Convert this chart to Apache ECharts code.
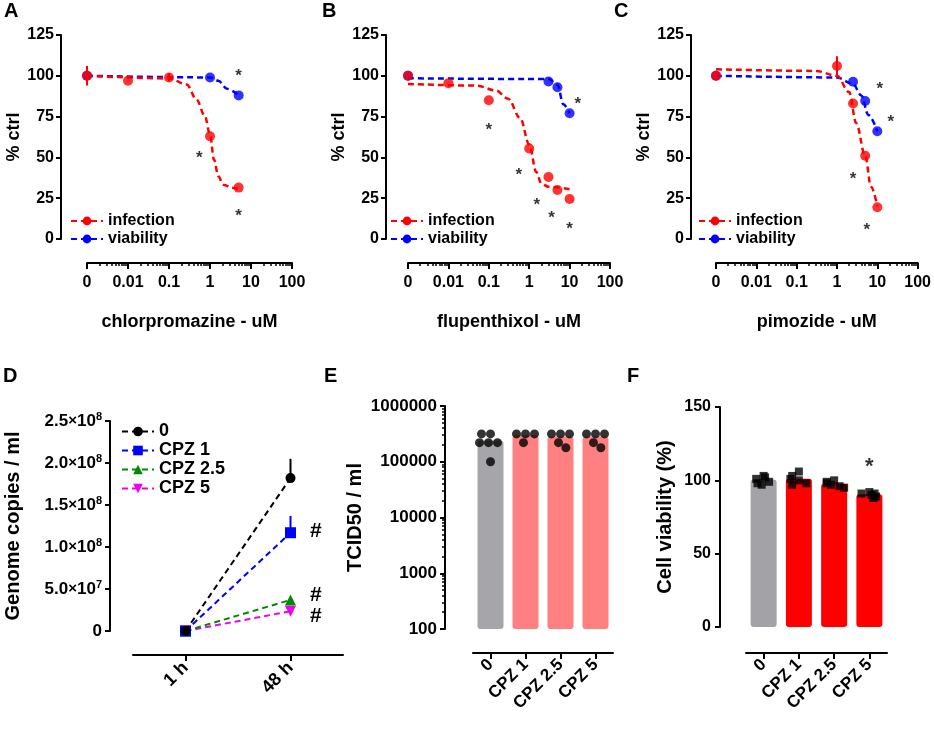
<!DOCTYPE html>
<html>
<head>
<meta charset="utf-8">
<script src="https://cdn.jsdelivr.net/npm/echarts@6/dist/echarts.min.js"></script>
<style>
html,body{margin:0;padding:0;background:#fff}
#wrap{position:relative;width:934px;height:730px}
.layer{position:absolute;left:0;top:0;width:934px;height:730px}
</style>
</head>
<body>
<div id="wrap"></div>
<script>
// dose axes (A-C): "0" is drawn at 0.001 on the log scale
var doseTicks = [0.001, 0.01, 0.1, 1, 10, 100];
var doseTickLabels = ['0', '0.01', '0.1', '1', '10', '100'];
var minorSteps = [2, 3, 4, 5, 6, 7, 8, 9];

// A - chlorpromazine
var aInfection = [[0.001, 100], [0.01, 97], [0.1, 99], [1, 63], [5, 31.5]];
var aViability = [[0.001, 100], [1, 99], [5, 88]];
var aInfFit = [[0.001, 100], [0.1, 98.4], [0.27, 94.7], [0.47, 85.5], [0.75, 75.3], [1, 64], [1.25, 48.7],
  [1.6, 38.4], [2.1, 33.3], [3.7, 31.3], [5, 30.7]];
var aViaFit = [[0.001, 100], [1, 99], [1.6, 97], [2.6, 92], [5, 88]];
var aErr = [[0.001, 94, 106], [0.1, 96.5, 101.5]];
var aStars = [[5, 102], [0.55, 52], [5, 16.5]];

// B - flupenthixol
var bInfection = [[0.001, 100], [0.01, 95.5], [0.1, 85], [1, 55.5], [3, 38], [5, 30], [10, 24.5]];
var bViability = [[0.001, 100], [3, 96.5], [5, 93], [10, 77]];
var bInfFit = [[0.001, 95], [0.05, 94], [0.15, 91], [0.3, 86], [0.6, 74], [1, 58], [1.5, 41], [2, 34],
  [3, 32], [10, 30.5]];
var bViaFit = [[0.001, 98.5], [3, 98], [5, 94.5], [7, 82.5], [10, 77]];
var bErr = [];
var bStars = [[0.1, 69], [0.55, 41.5], [1.55, 23], [3.6, 15], [10, 8.5], [16, 85]];

// C - pimozide
var cInfection = [[0.001, 100], [1, 106], [2.5, 83], [5, 51], [10, 19.5]];
var cViability = [[0.001, 100], [2.5, 96.3], [5, 84.6], [10, 66]];
var cInfFit = [[0.001, 104], [0.3, 103], [1, 100], [2, 90], [3, 71], [5, 51], [7, 32], [10, 20]];
var cViaFit = [[0.001, 100], [1, 99], [2.5, 95], [4, 88], [6, 76], [10, 66]];
var cErr = [[0.001, 97.5, 102.5], [1, 100, 112]];
var cStars = [[11.5, 94], [21.5, 74], [2.5, 39], [5.5, 8]];

// D - genome copies
var dTimes = ['1 h', '48 h'];
var dNames = ['0', 'CPZ 1', 'CPZ 2.5', 'CPZ 5'];
var dCtrl = [0, 1.82e8];
var dCpz1 = [0, 1.17e8];
var dCpz25 = [0, 0.37e8];
var dCpz5 = [0, 0.235e8];
var dErrCtrl = [[1, 1.82e8, 2.05e8]];
var dErrCpz1 = [[1, 1.17e8, 1.37e8]];
var dMarks = ['', '#', '#', '#'];

// E - TCID50
var groups = ['0', 'CPZ 1', 'CPZ 2.5', 'CPZ 5'];
var eTicks = [100, 1000, 10000, 100000, 1000000];
var eBars = [2.4e5, 3.0e5, 2.85e5, 2.85e5];
var eDots = [
  [3.16e5, 3.16e5, 2.2e5, 2.2e5, 2.2e5, 1e5],
  [3.16e5, 3.16e5, 3.16e5, 2.2e5],
  [3.16e5, 3.16e5, 3.16e5, 2.2e5, 1.78e5],
  [3.16e5, 3.16e5, 3.16e5, 2.2e5, 1.78e5]
];

// F - cell viability
var fBars = [100.5, 101, 97.7, 90.5];
var fDots = [
  [103, 101, 99, 97, 98, 102],
  [106, 103, 100, 98, 97, 101],
  [100, 98, 96, 95, 97, 99],
  [92, 91, 89, 88, 90, 91]
];
var fStars = [['CPZ 5', 112]];

var RED = '#ff0000', BLUE = '#0000ff';
var FONT = 'Liberation Sans';
var eColors = ['#a6a5aa', '#ff8080', '#ff8080', '#ff8080'];
var fColors = ['#a3a2a7', '#ff0000', '#ff0000', '#ff0000'];
var dColors = ['#000000', '#0000ff', '#008a00', '#ee00ee'];
var dSymbols = ['circle', 'rect', 'triangle', 'triangle'];
var dRotate = [0, 0, 0, 180];
var dMarkShift = [0, -2, -5, 5];

function minorsOf(ticks) {
  var out = [];
  for (var i = 0; i < ticks.length - 1; i++) {
    minorSteps.forEach(function (k) { out.push(ticks[i] * k); });
  }
  return out;
}
function lbl(size) {
  return { color: '#000', fontWeight: 'bold', fontFamily: FONT, fontSize: size };
}
function axLine() {
  return { show: true, onZero: false, lineStyle: { color: '#000', width: 2 } };
}
function axTick(extra) {
  return Object.assign({ show: true, length: 5, lineStyle: { color: '#000', width: 2 } }, extra || {});
}
function letter(t, x, y) {
  return [{ type: 'text', left: x, top: y, style: { text: t, font: 'bold 20px ' + FONT, fill: '#000' } }];
}

function errSeries(data, color) {
  return {
    type: 'custom', data: data, silent: true, z: 4,
    renderItem: function (p, api) {
      var a = api.coord([api.value(0), api.value(1)]);
      var b = api.coord([api.value(0), api.value(2)]);
      return { type: 'line', shape: { x1: a[0], y1: a[1], x2: b[0], y2: b[1] },
        style: { stroke: color, lineWidth: 2 } };
    }
  };
}

function starSeries(data, size) {
  return {
    type: 'scatter', data: data, silent: true,
    symbolSize: 1, itemStyle: { color: 'rgba(0,0,0,0)' },
    label: { show: true, position: 'inside', formatter: '*', offset: [0, 4],
      color: '#000', fontWeight: 'bold', fontFamily: FONT, fontSize: size }
  };
}

// every panel gets its own chart layer, all stacked on the same 934x730 area
function layer(option) {
  var d = document.createElement('div');
  d.className = 'layer';
  document.getElementById('wrap').appendChild(d);
  var c = echarts.init(d);
  option.animation = false;
  option.textStyle = { fontFamily: FONT };
  c.setOption(option);
  return c;
}

var topPanels = [
  { left: 87, width: 205, yOff: 26, inf: aInfection, via: aViability, infFit: aInfFit, viaFit: aViaFit,
    err: aErr, stars: aStars, drug: 'chlorpromazine - uM', letter: 'A', lx: 4, legLeft: 70 },
  { left: 408, width: 202, yOff: 22, inf: bInfection, via: bViability, infFit: bInfFit, viaFit: bViaFit,
    err: bErr, stars: bStars, drug: 'flupenthixol - uM', letter: 'B', lx: 322, legLeft: 390 },
  { left: 716, width: 203, yOff: 25, inf: cInfection, via: cViability, infFit: cInfFit, viaFit: cViaFit,
    err: cErr, stars: cStars, drug: 'pimozide - uM', letter: 'C', lx: 614, legLeft: 698 }
];

// A-C
topPanels.forEach(function (p) {
  layer({
    grid: { left: p.left, top: 35, width: p.width, height: 204 },
    xAxis: [{
      type: 'log', logBase: 10, min: 0.001, max: 100, position: 'bottom', offset: 24,
      name: p.drug, nameLocation: 'middle', nameGap: 50, nameTextStyle: lbl(18),
      axisLine: axLine(), axisTick: axTick({ customValues: doseTicks, length: 6 }),
      splitLine: { show: false },
      axisLabel: Object.assign(lbl(16), { margin: 12, customValues: doseTicks,
        formatter: function (v) { return doseTickLabels[doseTicks.indexOf(+v.toPrecision(3))]; } })
    }, {
      type: 'log', logBase: 10, min: 0.001, max: 100, position: 'bottom', offset: 24,
      axisLine: { show: false, onZero: false }, axisLabel: { show: false }, splitLine: { show: false },
      axisTick: { show: true, length: 3, customValues: minorsOf(doseTicks), lineStyle: { color: '#000', width: 1.5 } }
    }],
    yAxis: {
      type: 'value', min: 0, max: 125, interval: 25, offset: p.yOff, position: 'left',
      name: '% ctrl', nameLocation: 'middle', nameGap: 33, nameTextStyle: lbl(18),
      axisLine: axLine(), axisTick: axTick(), splitLine: { show: false },
      axisLabel: Object.assign(lbl(16), { margin: 7 })
    },
    legend: {
      data: ['infection', 'viability'], orient: 'vertical', left: p.legLeft, top: 212, padding: 0,
      itemGap: 0, itemWidth: 32, itemHeight: 11, selectedMode: false,
      textStyle: Object.assign(lbl(16), { lineHeight: 18 })
    },
    graphic: letter(p.letter, p.lx, 1),
    series: [{
      name: 'viability', type: 'line', data: p.viaFit,
      smooth: 0.35, smoothMonotone: 'x', symbol: 'circle', showSymbol: false, silent: true, z: 2,
      lineStyle: { color: BLUE, width: 2.5, type: [6, 4] }, itemStyle: { color: BLUE }
    }, {
      name: 'infection', type: 'line', data: p.infFit,
      smooth: 0.35, smoothMonotone: 'x', symbol: 'circle', showSymbol: false, silent: true, z: 2,
      lineStyle: { color: RED, width: 2.5, type: [6, 4] }, itemStyle: { color: RED }
    },
    errSeries(p.err, RED),
    { name: 'viability', type: 'scatter', data: p.via, symbolSize: 10, itemStyle: { color: BLUE }, z: 3 },
    { name: 'infection', type: 'scatter', data: p.inf, symbolSize: 10, itemStyle: { color: RED }, z: 5 },
    starSeries(p.stars, 17)]
  });
});

// D
var dSeries = [dCtrl, dCpz1, dCpz25, dCpz5].map(function (vals, k) {
  return {
    name: dNames[k], type: 'line', data: vals,
    symbol: dSymbols[k], symbolRotate: dRotate[k], symbolSize: k === 0 ? 10 : 11, z: 5 - k,
    lineStyle: { color: dColors[k], width: 2, type: [6, 4] }, itemStyle: { color: dColors[k] },
    label: { show: true, position: 'right', distance: 14, offset: [0, dMarkShift[k]], color: '#000',
      fontWeight: 'bold', fontFamily: FONT, fontSize: 21,
      formatter: function (p) { return p.dataIndex === 1 ? dMarks[k] : ''; } }
  };
});
dSeries.push(errSeries(dErrCtrl, '#000'));
dSeries.push(errSeries(dErrCpz1, dColors[1]));
layer({
  grid: { left: 133, top: 421, width: 210, height: 210 },
  xAxis: {
    type: 'category', data: dTimes, position: 'bottom', offset: 24,
    axisLine: axLine(), axisTick: axTick({ alignWithLabel: true, length: 6 }),
    axisLabel: Object.assign(lbl(18), { rotate: 45, margin: 10 })
  },
  yAxis: {
    type: 'value', min: 0, max: 2.5e8, interval: 5e7, offset: 23, position: 'left',
    name: 'Genome copies / ml', nameLocation: 'middle', nameGap: 87, nameTextStyle: lbl(20),
    axisLine: axLine(), axisTick: axTick(), splitLine: { show: false },
    axisLabel: Object.assign(lbl(17), {
      margin: 8,
      formatter: function (v) {
        if (v === 0) return '0';
        var e = Math.floor(Math.log10(v) + 1e-9);
        var m = (v / Math.pow(10, e)).toFixed(1);
        return '{n|' + m + '}{x|×}{n|10}{s|' + e + '}';
      },
      rich: {
        n: { fontSize: 17, fontWeight: 'bold', fontFamily: FONT, color: '#000' },
        x: { fontSize: 15, fontFamily: FONT, color: '#000' },
        s: { fontSize: 11, fontWeight: 'bold', fontFamily: FONT, color: '#000', verticalAlign: 'top', padding: [0, 0, 9, 0] }
      }
    })
  },
  legend: {
    data: dNames, orient: 'vertical', left: 121, top: 422, padding: 0, itemGap: 0,
    itemWidth: 32, itemHeight: 12, selectedMode: false,
    textStyle: Object.assign(lbl(18), { lineHeight: 19 })
  },
  graphic: letter('D', 3, 366),
  series: dSeries
});

// E
var eDotData = [];
eDots.forEach(function (vals, g) { vals.forEach(function (v) { eDotData.push([g, v]); }); });
layer({
  grid: { left: 473, top: 406, width: 140, height: 223 },
  xAxis: {
    type: 'category', data: groups, position: 'bottom', offset: 24,
    jitter: 24, jitterOverlap: false, jitterMargin: 0,
    axisLine: axLine(), axisTick: axTick({ alignWithLabel: true, length: 6 }),
    axisLabel: Object.assign(lbl(17), { rotate: 45, margin: 9, interval: 0 })
  },
  yAxis: [{
    type: 'log', logBase: 10, min: 100, max: 1000000, offset: 28, position: 'left',
    name: 'TCID50 / ml', nameLocation: 'middle', nameGap: 80, nameTextStyle: lbl(20),
    axisLine: axLine(), axisTick: axTick({ customValues: eTicks }),
    splitLine: { show: false },
    axisLabel: Object.assign(lbl(17), { margin: 8, customValues: eTicks,
      formatter: function (v) { return String(Math.round(v)); } })
  }, {
    type: 'log', logBase: 10, min: 100, max: 1000000, offset: 28, position: 'left',
    axisLine: { show: false, onZero: false }, axisLabel: { show: false }, splitLine: { show: false },
    axisTick: { show: true, length: 3, customValues: minorsOf(eTicks), lineStyle: { color: '#000', width: 1.5 } }
  }],
  graphic: letter('E', 324, 366),
  series: [{
    type: 'bar', data: eBars, barWidth: 26, clip: true,
    itemStyle: { color: function (p) { return eColors[p.dataIndex]; }, borderRadius: 3 }
  }, {
    type: 'scatter', data: eDotData, symbolSize: 9, itemStyle: { color: '#000' }, z: 4
  }]
});

// F
var fDotData = [];
fDots.forEach(function (vals, g) { vals.forEach(function (v) { fDotData.push([g, v]); }); });
layer({
  grid: { left: 746, top: 407, width: 141, height: 220 },
  xAxis: {
    type: 'category', data: groups, position: 'bottom', offset: 26,
    jitter: 22, jitterOverlap: false, jitterMargin: 0,
    axisLine: axLine(), axisTick: axTick({ alignWithLabel: true, length: 6 }),
    axisLabel: Object.assign(lbl(17), { rotate: 45, margin: 9, interval: 0 })
  },
  yAxis: {
    type: 'value', min: 0, max: 150, interval: 50, offset: 26, position: 'left',
    name: 'Cell viability (%)', nameLocation: 'middle', nameGap: 45, nameTextStyle: lbl(20),
    axisLine: axLine(), axisTick: axTick(), splitLine: { show: false },
    axisLabel: Object.assign(lbl(16), { margin: 9 })
  },
  graphic: letter('F', 627, 366),
  series: [{
    type: 'bar', data: fBars, barWidth: 26,
    itemStyle: { color: function (p) { return fColors[p.dataIndex]; }, borderRadius: 3 }
  }, {
    type: 'scatter', data: fDotData, symbol: 'rect', symbolSize: 8, itemStyle: { color: '#000' }, z: 4
  },
  starSeries(fStars, 22)]
});
</script>
</body>
</html>
